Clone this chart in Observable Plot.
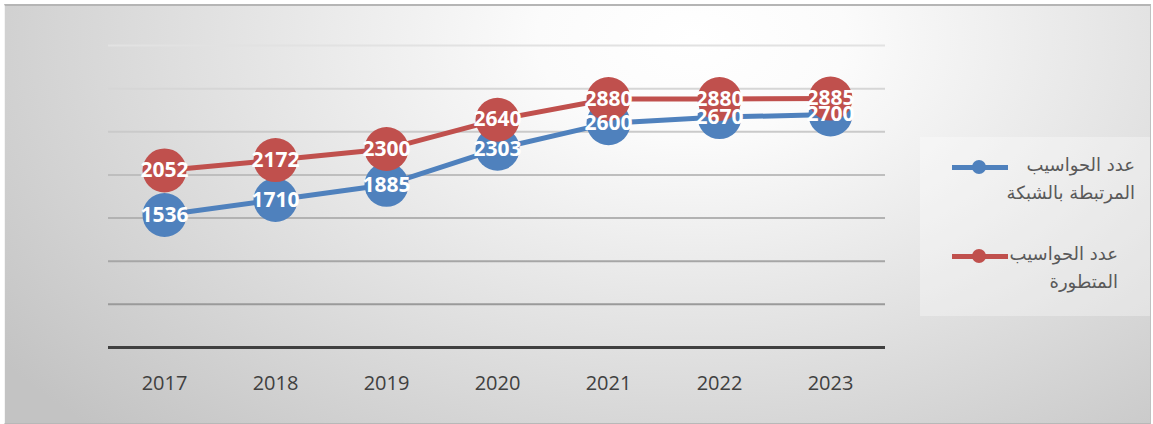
<!DOCTYPE html>
<html>
<head>
<meta charset="utf-8">
<script src="https://cdn.jsdelivr.net/npm/d3@7"></script>
<script src="https://cdn.jsdelivr.net/npm/@observablehq/plot@0.6"></script>
<style>
  html, body { margin: 0; padding: 0; background: #ffffff; }
  #wrap { position: relative; width: 1153px; height: 424px; overflow: hidden; }
  #frame {
    position: absolute; left: 4px; top: 4px; width: 1145px; height: 417px;
    border-top: 2px solid #b5b5b5; border-bottom: 1px solid #b8b8b8;
    border-left: 1px solid #f4f4f4; border-right: 1px solid #c0c0c0;
    background: radial-gradient(ellipse 75% 130% at 60% 8%, #ffffff 0%, #fbfbfb 18%, #e2e2e2 55%, #c3c3c3 100%);
  }
  #chart { position: absolute; left: 0; top: 0; }
  #legend {
    position: absolute; left: 920px; top: 137px; width: 230px; height: 179px;
    background: rgba(255,255,255,0.32);
  }
  .lt {
    position: absolute; direction: rtl; text-align: right; white-space: nowrap;
    font-family: "DejaVu Sans", sans-serif; font-size: 18px; color: #595959; line-height: 28px;
  }
  .lk { position: absolute; height: 5px; width: 56px; }
  .ld { position: absolute; width: 14px; height: 14px; border-radius: 50%; }
</style>
</head>
<body>
<div id="wrap">
  <div id="frame"></div>
  <div id="chart"></div>
  <div id="legend"></div>
</div>
<script>
const years = ["2017", "2018", "2019", "2020", "2021", "2022", "2023"];
const networked = [1536, 1710, 1885, 2303, 2600, 2670, 2700];
const advanced = [2052, 2172, 2300, 2640, 2880, 2880, 2885];
const gridValues = [500, 1000, 1500, 2000, 2500, 3000, 3500];
const seriesNames = ["عدد الحواسيب المرتبطة بالشبكة", "عدد الحواسيب المتطورة"];
const legendLines = [["عدد الحواسيب", "المرتبطة بالشبكة"], ["عدد الحواسيب", "المتطورة"]];

const blue = "#4f81bd", red = "#c0504d";
const blueData = years.map((y, i) => ({year: y, value: networked[i]}));
const redData = years.map((y, i) => ({year: y, value: advanced[i]}));
const gridShade = d3.interpolateRgb("#8e8e8e", "#e2e2e2");

const labelFont = {fill: "white", fontWeight: "bold", fontSize: 21, fontFamily: "'Open Sans', sans-serif"};

const plot = Plot.plot({
  width: 1153, height: 424,
  marginLeft: 108, marginRight: 268, marginTop: 45, marginBottom: 77,
  style: {background: "transparent", fontFamily: "'Open Sans', sans-serif"},
  x: {type: "point", domain: years, padding: 0.5, label: null, tickSize: 0, tickPadding: 28},
  y: {domain: [0, 3500], axis: null},
  marks: [
    Plot.ruleY(gridValues, {stroke: d => gridShade(d / 3500), strokeWidth: 2}),
    Plot.ruleY([0], {stroke: "#404040", strokeWidth: 3}),
    Plot.axisX({tickSize: 0, tickPadding: 28, fontSize: 20, fill: "#404040", label: null}),
    Plot.line(blueData, {x: "year", y: "value", stroke: blue, strokeWidth: 5}),
    Plot.dot(blueData, {x: "year", y: "value", r: 22, fill: blue}),
    Plot.line(redData, {x: "year", y: "value", stroke: red, strokeWidth: 5}),
    Plot.dot(redData, {x: "year", y: "value", r: 22, fill: red}),
    Plot.text(blueData, {x: "year", y: "value", text: d => String(d.value), ...labelFont}),
    Plot.text(redData, {x: "year", y: "value", text: d => String(d.value), ...labelFont})
  ]
});
document.getElementById("chart").appendChild(plot);

// legend (HTML)
const legend = document.getElementById("legend");
const entries = [
  {color: blue, lines: legendLines[0], lineY: 30, textRight: 15, textTop: 14},
  {color: red, lines: legendLines[1], lineY: 119, textRight: 32, textTop: 103}
];
entries.forEach(e => {
  const k = document.createElement("div");
  k.className = "lk"; k.style.background = e.color;
  k.style.left = "32px"; k.style.top = (e.lineY - 2) + "px";
  legend.appendChild(k);
  const dd = document.createElement("div");
  dd.className = "ld"; dd.style.background = e.color;
  dd.style.left = (59 - 7) + "px"; dd.style.top = (e.lineY - 7) + "px";
  legend.appendChild(dd);
  const t = document.createElement("div");
  t.className = "lt";
  t.style.right = e.textRight + "px"; t.style.top = e.textTop + "px";
  t.innerHTML = e.lines.join("<br>");
  legend.appendChild(t);
});
</script>
</body>
</html>
